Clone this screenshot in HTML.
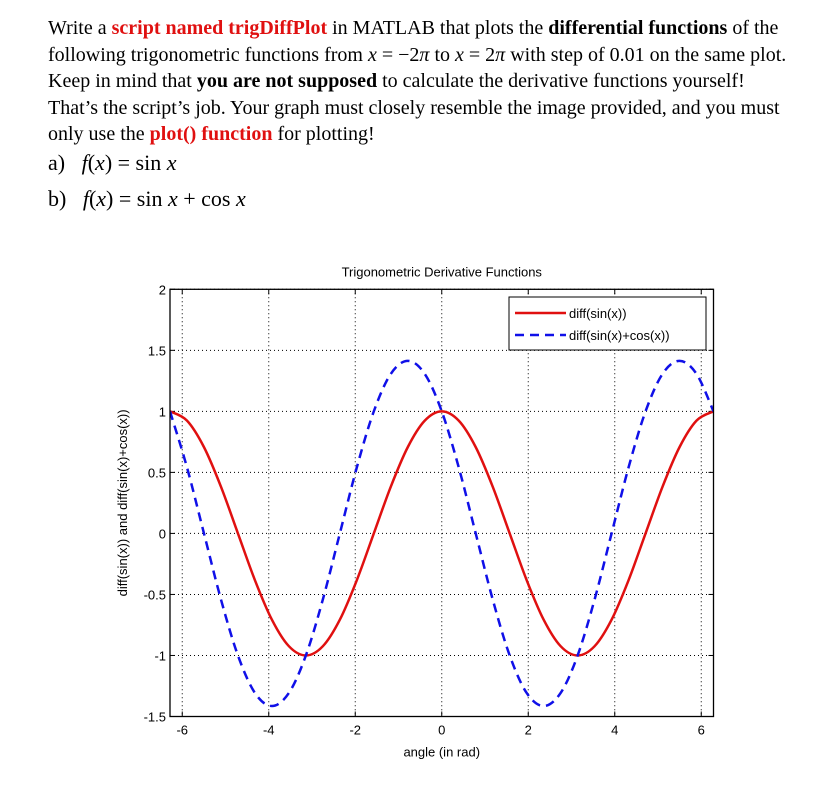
<!DOCTYPE html>
<html><head><meta charset="utf-8"><style>
body{margin:0;background:#fff;width:813px;height:790px;overflow:hidden;position:relative}
.q{position:absolute;left:48px;top:15px;width:780px;white-space:nowrap;font-family:"Liberation Serif",serif;font-size:20px;line-height:26.5px;color:#000}
.r{color:#e01010;font-weight:bold}
.m{font-style:italic}
.f{position:absolute;left:48px;font-family:"Liberation Serif",serif;font-size:22px;white-space:nowrap}
svg{position:absolute;left:0;top:0}
svg text{font-family:"Liberation Sans",sans-serif;font-size:13px}
</style></head><body>
<div class="q">Write a <span class="r">script named trigDiffPlot</span> in MATLAB that plots the <b>differential functions</b> of the<br>following trigonometric functions from <span class="m">x</span> = −2<span class="m">π</span> to <span class="m">x</span> = 2<span class="m">π</span> with step of 0.01 on the same plot.<br>Keep in mind that <b>you are not supposed</b> to calculate the derivative functions yourself!<br>That’s the script’s job. Your graph must closely resemble the image provided, and you must<br>only use the <span class="r">plot() function</span> for plotting!</div>
<div class="f" style="top:150px">a)&nbsp;&nbsp; <span class="m">f</span>(<span class="m">x</span>) = sin <span class="m">x</span></div>
<div class="f" style="top:186px">b)&nbsp;&nbsp; <span class="m">f</span>(<span class="m">x</span>) = sin <span class="m">x</span> + cos <span class="m">x</span></div>
<svg id="c" width="813" height="790"></svg>
<script>
const xStart=-2*Math.PI, xStep=Math.PI/8;
const redVals=[1,.924,.707,.383,0,-.383,-.707,-.924,-1,-.924,-.707,-.383,0,.383,.707,.924,1,.924,.707,.383,0,-.383,-.707,-.924,-1,-.924,-.707,-.383,0,.383,.707,.924,1];
const blueVals=[1,.541,0,-.541,-1,-1.307,-1.414,-1.307,-1,-.541,0,.541,1,1.307,1.414,1.307,1,.541,0,-.541,-1,-1.307,-1.414,-1.307,-1,-.541,0,.541,1,1.307,1.414,1.307,1];
const xTicks=[-6,-4,-2,0,2,4,6];
const yTicks=[2,1.5,1,.5,0,-.5,-1,-1.5];
const yTickLabels=["2","1.5","1","0.5","0","-0.5","-1","-1.5"];
const L=170,R=713.5,T=289.3,B=716.5,xmin=-2*Math.PI,xmax=2*Math.PI,ymin=-1.5,ymax=2;
const sx=v=>L+(v-xmin)/(xmax-xmin)*(R-L), sy=v=>B-(v-ymin)/(ymax-ymin)*(B-T);
const svg=document.getElementById('c'),NS='http://www.w3.org/2000/svg';
function mk(t,a,txt){const e=document.createElementNS(NS,t);for(const k in a)e.setAttribute(k,a[k]);if(txt!=null)e.textContent=txt;svg.appendChild(e);return e;}
xTicks.forEach(v=>{const x=sx(v);
 const g=mk('line',{x1:x,x2:x,y1:T,y2:B,stroke:'#000','stroke-width':1,'stroke-dasharray':'1,3'});
 
 mk('line',{x1:x,x2:x,y1:B,y2:B-5,stroke:'#000'});mk('line',{x1:x,x2:x,y1:T,y2:T+5,stroke:'#000'});
 const t=mk('text',{x:x,y:B+18,'text-anchor':'middle'},String(v));
 });
yTicks.forEach((v,i)=>{const y=sy(v);
 const g=mk('line',{x1:L,x2:R,y1:y,y2:y,stroke:'#000','stroke-width':1,'stroke-dasharray':'1,3'});
 
 mk('line',{x1:L,x2:L+5,y1:y,y2:y,stroke:'#000'});mk('line',{x1:R,x2:R-5,y1:y,y2:y,stroke:'#000'});
 const t=mk('text',{x:L-4,y:y+5,'text-anchor':'end'},yTickLabels[i]);
 });
function path(vals){const p=vals.map((v,i)=>[sx(xStart+i*xStep),sy(v)]);let d='M'+p[0][0]+','+p[0][1];
 for(let i=0;i<p.length-1;i++){const p0=p[Math.max(0,i-1)],p1=p[i],p2=p[i+1],p3=p[Math.min(p.length-1,i+2)];
  d+=' C'+(p1[0]+(p2[0]-p0[0])/6)+','+(p1[1]+(p2[1]-p0[1])/6)+' '+(p2[0]-(p3[0]-p1[0])/6)+','+(p2[1]-(p3[1]-p1[1])/6)+' '+p2[0]+','+p2[1];}
 return d;}
const cp=mk('clipPath',{id:'cl'});const cr=document.createElementNS(NS,'rect');cr.setAttribute('x',L);cr.setAttribute('y',T);cr.setAttribute('width',R-L);cr.setAttribute('height',B-T);cp.appendChild(cr);
const red=mk('path',{d:path(redVals),fill:'none',stroke:'#e01010','stroke-width':2.5,'clip-path':'url(#cl)'});

const blue=mk('path',{d:path(blueVals),fill:'none',stroke:'#1010e8','stroke-width':2.5,'stroke-dasharray':'9,6','clip-path':'url(#cl)'});

const fr=mk('rect',{x:L,y:T,width:R-L,height:B-T,fill:'none',stroke:'#000','stroke-width':1.3});

const ti=mk('text',{x:(L+R)/2,y:T-13,'text-anchor':'middle','font-size':'14'},'Trigonometric Derivative Functions');

const xl=mk('text',{x:(L+R)/2,y:B+40,'text-anchor':'middle'},'angle (in rad)');

const yl=mk('text',{x:0,y:0,'text-anchor':'middle',transform:'translate(127,'+(T+B)/2+') rotate(-90)'},'diff(sin(x)) and diff(sin(x)+cos(x))');

const lg=mk('rect',{x:509,y:297,width:197,height:53,fill:'#fff',stroke:'#000'});

mk('line',{x1:515,x2:566,y1:313,y2:313,stroke:'#e01010','stroke-width':2.5});
const l1=mk('text',{x:569,y:318},'diff(sin(x))');
mk('line',{x1:515,x2:566,y1:335,y2:335,stroke:'#1010e8','stroke-width':2.5,'stroke-dasharray':'9,6'});
const l2=mk('text',{x:569,y:340},'diff(sin(x)+cos(x))');
</script></body></html>
